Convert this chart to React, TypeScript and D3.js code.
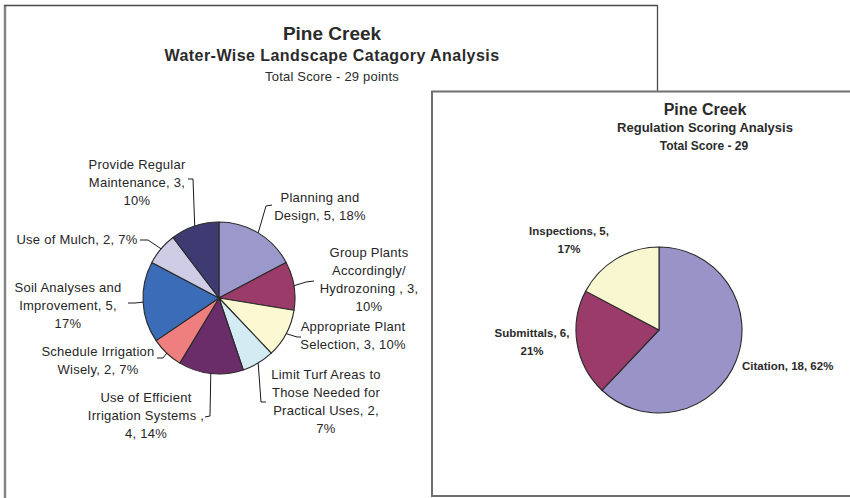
import React from "react";
import * as d3 from "d3";

const W = 850;
const H = 498;

// ---------- Left chart data ----------
const leftTitle = ["Pine Creek", "Water-Wise Landscape Catagory Analysis", "Total Score - 29 points"];
const leftCategories = [
  "Planning and Design",
  "Group Plants Accordingly/ Hydrozoning ",
  "Appropriate Plant Selection",
  "Limit Turf Areas to Those Needed for Practical Uses",
  "Use of Efficient Irrigation Systems ",
  "Schedule Irrigation Wisely",
  "Soil Analyses and Improvement",
  "Use of Mulch",
  "Provide Regular Maintenance",
];
const leftValues = [5, 3, 3, 2, 4, 2, 5, 2, 3];
const leftPercents = ["18%", "10%", "10%", "7%", "14%", "7%", "17%", "7%", "10%"];
const leftColors = ["#9b98cb", "#9b3b6a", "#fcf8d2", "#d5ebf3", "#6a2d69", "#ee7f7e", "#3b6cb7", "#cfcde6", "#3d3b72"];
const leftLabelLines = [
  ["Planning and", "Design, 5, 18%"],
  ["Group Plants", "Accordingly/", "Hydrozoning , 3,", "10%"],
  ["Appropriate Plant", "Selection, 3, 10%"],
  ["Limit Turf Areas to", "Those Needed for", "Practical Uses, 2,", "7%"],
  ["Use of Efficient", "Irrigation Systems ,", "4, 14%"],
  ["Schedule Irrigation", "Wisely, 2, 7%"],
  ["Soil Analyses and", "Improvement, 5,", "17%"],
  ["Use of Mulch, 2, 7%"],
  ["Provide Regular", "Maintenance, 3,", "10%"],
];

// ---------- Right chart data ----------
const rightTitle = ["Pine Creek", "Regulation Scoring Analysis", "Total Score - 29"];
const rightCategories = ["Citation", "Submittals", "Inspections"];
const rightValues = [18, 6, 5];
const rightPercents = ["62%", "21%", "17%"];
const rightColors = ["#9a93c7", "#9a3b69", "#f8f7cf"];
const rightLabelLines = [
  ["Citation, 18, 62%"],
  ["Submittals, 6,", "21%"],
  ["Inspections, 5,", "17%"],
];

// ---------- Layout (positions only) ----------
const leftPie = { cx: 219, cy: 298, r: 76 };
const leftLabelLayout = [
  { x: 320, y: 202, anchor: "middle", elbow: [266, 206], end: [272, 205] },
  { x: 369, y: 257, anchor: "middle", elbow: [306, 282], end: [314, 281] },
  { x: 353, y: 331, anchor: "middle", elbow: [297, 337], end: [301, 337] },
  { x: 326, y: 379, anchor: "middle", elbow: [261, 402], end: [266, 402] },
  { x: 146, y: 402, anchor: "middle", elbow: [210, 416], end: [205, 417] },
  { x: 98, y: 356, anchor: "middle", elbow: [163, 358], end: [157, 358] },
  { x: 68, y: 292, anchor: "middle", elbow: [135, 303], end: [128, 303] },
  { x: 77, y: 244, anchor: "middle", elbow: [148, 240], end: [140, 240] },
  { x: 137, y: 169, anchor: "middle", elbow: [193, 179], end: [188, 179] },
];
const leftLineH = 18;

const rightPie = { cx: 659, cy: 330, r: 83 };
const rightLabelLayout = [
  { x: 742, y: 370, anchor: "start" },
  { x: 532, y: 337, anchor: "middle" },
  { x: 569, y: 235, anchor: "middle" },
];
const rightLineH = 18;

const FONT = "'Liberation Sans', Arial, Helvetica, sans-serif";

function PieChart({ values, colors, pie }: any) {
  const arcs = d3.pie<number>().sort(null).value((d) => d)(values);
  const arcGen = d3.arc<any>().innerRadius(0).outerRadius(pie.r);
  return (
    <g transform={`translate(${pie.cx},${pie.cy})`}>
      {arcs.map((a, i) => (
        <path key={i} d={arcGen(a) || ""} fill={colors[i]} stroke="#2a2a2a" strokeWidth={1.1} strokeLinejoin="round" />
      ))}
    </g>
  );
}

export default function App() {
  const leftArcs = d3.pie<number>().sort(null).value((d) => d)(leftValues);
  const midPoint = (a: any, p: any) => {
    const m = (a.startAngle + a.endAngle) / 2;
    return [p.cx + p.r * Math.sin(m), p.cy - p.r * Math.cos(m)];
  };

  return (
    <svg
      width={W}
      height={H}
      viewBox={`0 0 ${W} ${H}`}
      style={{ position: "absolute", left: 0, top: 0, background: "#fff" }}
      fontFamily={FONT}
    >
      <rect x={0} y={0} width={W} height={H} fill="#fff" />
      {/* Left panel frame */}
      <line x1={5} y1={5} x2={5} y2={H} stroke="#858585" strokeWidth={2.5} />
      <line x1={4} y1={5.5} x2={657.5} y2={5.5} stroke="#4a4a4a" strokeWidth={1.3} />
      <line x1={657.5} y1={5} x2={657.5} y2={100} stroke="#4a4a4a" strokeWidth={1.3} />

      {/* Left titles */}
      <g fill="#2b2b2b" textAnchor="middle">
        <text x={332} y={40} fontSize={19} fontWeight="bold">{leftTitle[0]}</text>
        <text x={332} y={61} fontSize={16} fontWeight="bold" letterSpacing={0.45}>{leftTitle[1]}</text>
        <text x={332} y={81} fontSize={13} letterSpacing={0.2}>{leftTitle[2]}</text>
      </g>

      <PieChart values={leftValues} colors={leftColors} pie={leftPie} />

      {/* Left leader lines */}
      <g fill="none" stroke="#1a1a1a" strokeWidth={1}>
        {leftArcs.map((a, i) => {
          const s = midPoint(a, leftPie);
          const L = leftLabelLayout[i];
          return <polyline key={i} points={`${s[0]},${s[1]} ${L.elbow[0]},${L.elbow[1]} ${L.end[0]},${L.end[1]}`} />;
        })}
      </g>

      {/* Left labels */}
      <g fill="#262626" fontSize={13} letterSpacing={0.25}>
        {leftLabelLines.map((lines, i) => {
          const L = leftLabelLayout[i];
          return (
            <text key={i} textAnchor={L.anchor as any}>
              {lines.map((t, j) => (
                <tspan key={j} x={L.x} y={L.y + j * leftLineH}>{t}</tspan>
              ))}
            </text>
          );
        })}
      </g>

      {/* Right panel */}
      <rect x={432} y={91.5} width={430} height={404.5} fill="#fff" stroke="#6f6f6f" strokeWidth={2} />

      <g fill="#2b2b2b" textAnchor="middle" fontWeight="bold">
        <text x={705} y={115} fontSize={16}>{rightTitle[0]}</text>
        <text x={705} y={132} fontSize={13}>{rightTitle[1]}</text>
        <text x={704} y={150} fontSize={12}>{rightTitle[2]}</text>
      </g>

      <PieChart values={rightValues} colors={rightColors} pie={rightPie} />

      <g fill="#2b2b2b" fontSize={11.5} fontWeight="bold">
        {rightLabelLines.map((lines, i) => {
          const L = rightLabelLayout[i];
          return (
            <text key={i} textAnchor={L.anchor as any}>
              {lines.map((t, j) => (
                <tspan key={j} x={L.x} y={L.y + j * rightLineH}>{t}</tspan>
              ))}
            </text>
          );
        })}
      </g>
    </svg>
  );
}
